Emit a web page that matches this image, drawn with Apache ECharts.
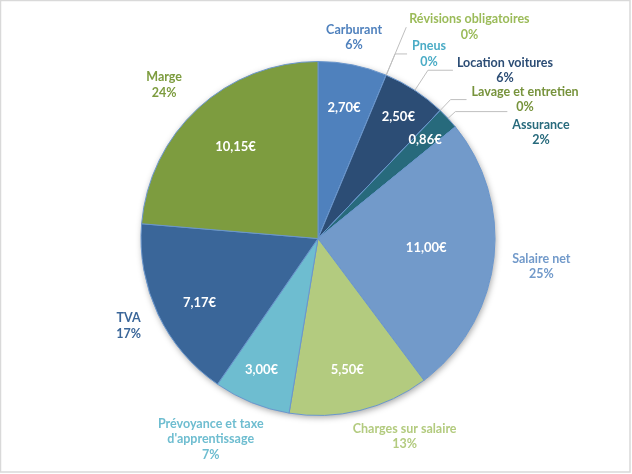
<!DOCTYPE html>
<html><head><meta charset="utf-8">
<script src="https://cdn.jsdelivr.net/npm/echarts@6/dist/echarts.min.js"></script>
<style>html,body{margin:0;padding:0;background:#fff}#c{width:632px;height:474px}</style>
</head><body><div id="c"></div>
<script>
// ---- data ----
const categories = ['Carburant', 'Révisions obligatoires', 'Pneus', 'Location voitures', 'Lavage et entretien', 'Assurance', 'Salaire net', 'Charges sur salaire', "Prévoyance et taxe\nd'apprentissage", 'TVA', 'Marge'];
const values = [2.70, 0, 0, 2.50, 0, 0.86, 11.00, 5.50, 3.00, 7.17, 10.15];

// ---- style ----
const colors = ['#4f81bd', '#9bbb59', '#4bacc6', '#2c4d75', '#77933c', '#276a7c', '#729aca', '#b3cb7f', '#6ebdd0', '#3a6699', '#7d9c3f'];
const showLine = [false, true, true, true, true, true, false, false, false, false, false];
const lineLen = [27, 52, 23, 24, 15, 10, 43, 37, 48, 27, 37];
const lineLen2 = [0, 0, 12, 25, 16, 52, 0, 0, 0, 0, 0];
const outNudge = [[-9, -1], [-2, 0], [0, 0], [-1, 0], [0, 0], [0, 21], [0, 1], [31, -10], [-18, -8], [0, 0], [-4, 4]];
const inNudge = [[0, -1], [0, 0], [0, 0], [8, -11], [0, 0], [10, -9], [-23, -7], [-2, 3], [-7, 9], [1, 8], [7, 6]];

const FONT = 'Lato';
const CX = 318, CY = 238.5, R = 177;

const chart = echarts.init(document.getElementById('c'), null, {renderer: 'canvas'});

const mainData = categories.map((n, i) => ({name: n, value: values[i], itemStyle: {color: colors[i]}}));
const inData = categories.map((n, i) => ({name: n, value: values[i]}));
const outData = categories.map((n, i) => ({
  name: n, value: values[i],
  label: {color: colors[i]},
  labelLine: {show: showLine[i], length: lineLen[i], length2: lineLen2[i]}
}));

chart.setOption({
  animation: false,
  backgroundColor: '#ffffff',
  graphic: [{
    type: 'rect', shape: {x: 0.5, y: 0.5, width: 629.5, height: 471.5},
    style: {fill: 'none', stroke: '#d9d9d9', lineWidth: 1.5}, silent: true, z: -1
  }],
  series: [
    { // shadow base
      type: 'pie', center: [CX, CY], radius: [0, R], silent: true, startAngle: 90,
      data: [{value: 1, itemStyle: {color: '#ffffff'}}],
      itemStyle: {shadowBlur: 6, shadowColor: 'rgba(0,0,0,0.35)', shadowOffsetX: 1, shadowOffsetY: 2},
      label: {show: false}, labelLine: {show: false}, z: 1
    },
    { // slices
      type: 'pie', center: [CX, CY], radius: [0, R], startAngle: 90, clockwise: true,
      silent: true, avoidLabelOverlap: false,
      data: mainData,
      itemStyle: {borderColor: '#6a96cc', borderWidth: 1},
      label: {show: false}, labelLine: {show: false}, z: 2
    },
    { // inside value labels
      type: 'pie', center: [CX, CY], radius: [R * 0.46, R], startAngle: 90, clockwise: true,
      silent: true, avoidLabelOverlap: false,
      data: inData,
      itemStyle: {color: 'rgba(0,0,0,0)', borderWidth: 0},
      label: {
        show: true, position: 'inside', color: '#ffffff', fontFamily: FONT, fontWeight: 'bold', fontSize: 13,
        formatter: p => p.value === 0 ? '' : p.value.toFixed(2).replace('.', ',') + '€'
      },
      labelLine: {show: false},
      labelLayout: p => ({dx: inNudge[p.dataIndex][0], dy: inNudge[p.dataIndex][1]}),
      z: 3
    },
    { // outside category labels
      type: 'pie', center: [CX, CY], radius: [0, R], startAngle: 90, clockwise: true,
      silent: true, avoidLabelOverlap: false, percentPrecision: 0,
      data: outData,
      itemStyle: {color: 'rgba(0,0,0,0)', borderWidth: 0},
      label: {
        show: true, position: 'outside', fontFamily: FONT, fontWeight: 'bold', fontSize: 12.5, lineHeight: 15.5,
        distanceToLabelLine: 5,
        formatter: p => p.name.split('\n').map(s => '{c|' + s + '}').join('\n') + '\n{c|' + p.percent + '%}',
        rich: {c: {align: 'center', fontFamily: FONT, fontWeight: 'bold', fontSize: 12.5, lineHeight: 15.5}}
      },
      labelLine: {lineStyle: {color: '#bfbfbf', width: 1}, smooth: false},
      labelLayout: p => {
        const o = {dx: outNudge[p.dataIndex][0], dy: outNudge[p.dataIndex][1]};
        if (!showLine[p.dataIndex]) o.align = 'center';
        return o;
      },
      z: 4
    }
  ]
});
</script>
</body></html>
